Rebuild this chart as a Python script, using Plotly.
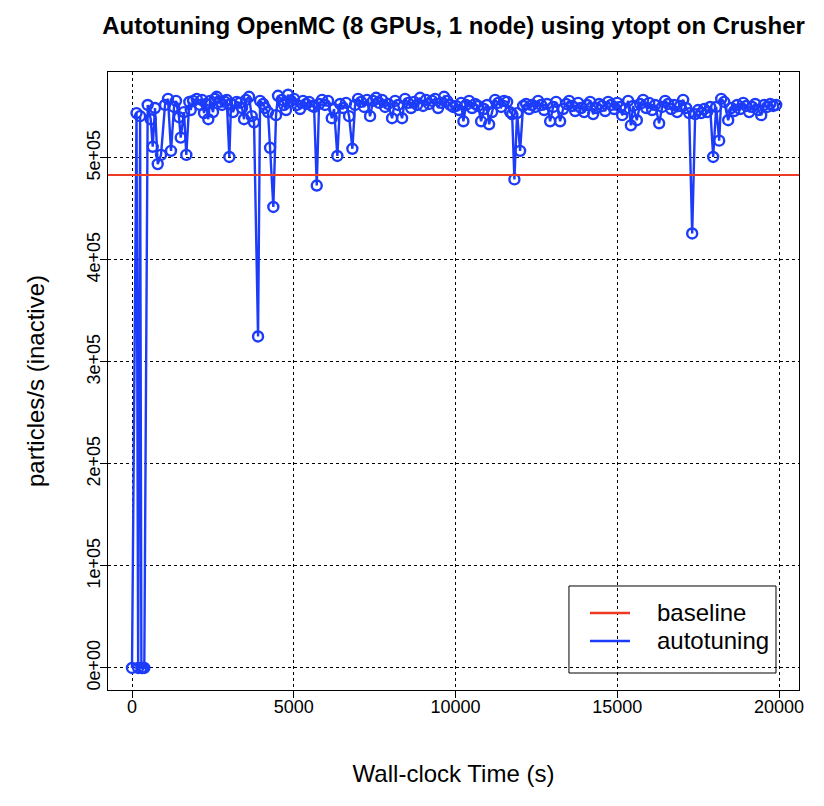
import plotly.graph_objects as go

# ---- data ----
time_s = [0, 140, 190, 250, 290, 330, 380, 485, 578, 640, 711, 795, 897, 1020, 1113, 1206, 1299, 1360,
          1453, 1506, 1608, 1679, 1772, 1815, 1886, 2000, 2103, 2165, 2226, 2288, 2359, 2412, 2505, 2566,
          2619, 2721, 2783, 2876, 2928, 3009, 3061, 3123, 3237, 3339, 3401, 3463, 3525, 3618, 3701, 3772,
          3896, 3958, 4051, 4112, 4205, 4267, 4369, 4452, 4514, 4629, 4700, 4761, 4824, 4916, 5009, 5102,
          5195, 5287, 5380, 5473, 5566, 5628, 5711, 5782, 5875, 5968, 6060, 6175, 6246, 6348, 6431, 6524,
          6617, 6710, 6812, 6895, 6988, 7081, 7174, 7266, 7359, 7452, 7545, 7638, 7730, 7823, 7916, 8039,
          8132, 8225, 8349, 8441, 8534, 8627, 8720, 8812, 8905, 8998, 9091, 9183, 9276, 9369, 9462, 9555,
          9647, 9740, 9833, 9926, 10019, 10111, 10173, 10244, 10327, 10420, 10513, 10606, 10698, 10791,
          10884, 10977, 11039, 11131, 11224, 11317, 11410, 11502, 11595, 11688, 11750, 11821, 11904, 11997,
          12090, 12183, 12275, 12368, 12461, 12554, 12646, 12739, 12832, 12925, 13018, 13110, 13234, 13327,
          13420, 13512, 13605, 13698, 13791, 13884, 13976, 14069, 14162, 14255, 14347, 14440, 14533, 14626,
          14719, 14811, 14904, 14997, 15090, 15152, 15244, 15337, 15421, 15491, 15605, 15707, 15800, 15893,
          15986, 16079, 16171, 16295, 16388, 16481, 16573, 16666, 16759, 16852, 16944, 17037, 17130, 17223,
          17316, 17409, 17501, 17594, 17687, 17780, 17872, 17965, 18058, 18151, 18213, 18305, 18429, 18522,
          18615, 18707, 18800, 18893, 18986, 19078, 19171, 19264, 19357, 19450, 19542, 19635, 19728, 19821,
          19913]

autotuning = [0, 544000, 0, 541000, 0, 0, 0, 552000, 538000, 511000, 549000, 494000, 503000, 552000,
              558000, 507000, 550000, 556000, 540000, 520000, 545000, 503000, 555000, 547000, 556000,
              558000, 552000, 557000, 544000, 553000, 538000, 556000, 545000, 558000, 560000, 555000,
              552000, 555000, 557000, 501000, 553000, 545000, 555000, 554000, 549000, 538000, 557000,
              560000, 541000, 535000, 325000, 556000, 553000, 549000, 545000, 510000, 452000, 542000,
              561000, 557000, 552000, 547000, 562000, 556000, 558000, 552000, 548000, 556000, 553000,
              555000, 551000, 550000, 473000, 553000, 557000, 552000, 556000, 539000, 548000, 502000,
              553000, 549000, 554000, 541000, 509000, 552000, 558000, 555000, 550000, 557000, 541000,
              556000, 559000, 554000, 557000, 550000, 553000, 539000, 556000, 552000, 539000, 558000,
              554000, 549000, 555000, 552000, 559000, 551000, 557000, 553000, 556000, 558000, 549000,
              554000, 560000, 556000, 552000, 550000, 551000, 547000, 554000, 536000, 552000, 556000,
              549000, 553000, 551000, 536000, 548000, 552000, 533000, 545000, 557000, 554000, 550000,
              556000, 555000, 545000, 543000, 479000, 544000, 507000, 551000, 553000, 548000, 552000,
              550000, 556000, 552000, 547000, 553000, 536000, 550000, 555000, 536000, 548000, 553000,
              556000, 551000, 546000, 554000, 549000, 545000, 552000, 555000, 543000, 549000, 553000,
              551000, 546000, 555000, 552000, 548000, 554000, 550000, 542000, 548000, 556000, 532000,
              551000, 537000, 553000, 557000, 549000, 554000, 547000, 552000, 534000, 550000, 556000,
              553000, 548000, 552000, 545000, 551000, 557000, 549000, 544000, 426000, 543000, 547000,
              544000, 548000, 545000, 550000, 501000, 550000, 517000, 558000, 555000, 537000, 549000,
              546000, 552000, 548000, 554000, 551000, 545000, 550000, 553000, 547000, 542000, 552000,
              550000, 553000, 551000, 552000]

baseline = 483300

x_ticks = [0, 5000, 10000, 15000, 20000]
x_tick_labels = ["0", "5000", "10000", "15000", "20000"]
y_ticks = [0, 100000, 200000, 300000, 400000, 500000]
y_tick_labels = ["0e+00", "1e+05", "2e+05", "3e+05", "4e+05", "5e+05"]
series_names = ["baseline", "autotuning"]

X_RANGE = [-742, 20618]
Y_RANGE = [-21600, 584300]

BLUE = "#1c3cfa"
RED = "#ee3a24"
FONT = "Liberation Sans, Arial, Helvetica, sans-serif"

fig = go.Figure()

fig.add_trace(go.Scatter(
    x=time_s, y=autotuning, mode="lines+markers",
    line=dict(color=BLUE, width=2.4),
    marker=dict(symbol="circle-open", size=10, color=BLUE, line=dict(width=2.4, color=BLUE)),
    showlegend=False, hoverinfo="skip"))

fig.add_hline(y=baseline, line=dict(color=RED, width=2.2))

# empty trace on overlay axes that only carry the tick marks
fig.add_trace(go.Scatter(x=[None], y=[None], xaxis="x2", yaxis="y2",
                         showlegend=False, hoverinfo="skip"))

# R-style legend box (drawn in paper coordinates, grid shows through as in the reference)
fig.add_shape(type="rect", xref="paper", yref="paper", x0=0.6671, x1=0.9667, y0=0.0275, y1=0.1683,
              line=dict(color="black", width=1), fillcolor="rgba(0,0,0,0)", layer="above")
for name, col, yy in [(series_names[0], RED, 0.1246), (series_names[1], BLUE, 0.0793)]:
    fig.add_shape(type="line", xref="paper", yref="paper", x0=0.6975, x1=0.7554, y0=yy, y1=yy,
                  line=dict(color=col, width=2.4), layer="above")
    fig.add_annotation(xref="paper", yref="paper", x=0.7916, y=yy, xanchor="left", yanchor="middle",
                       text=name, showarrow=False, font=dict(family=FONT, size=24, color="black"))

fig.update_layout(
    width=808, height=790,
    margin=dict(l=100, r=17, t=64, b=108),
    paper_bgcolor="white", plot_bgcolor="white",
    font=dict(family=FONT, color="black", size=17),
    showlegend=False,
    title=dict(text="<b>Autotuning OpenMC (8 GPUs, 1 node) using ytopt on Crusher</b>",
               xref="paper", x=0.5, xanchor="center", y=0.978, yanchor="middle",
               font=dict(family=FONT, size=24, color="black")),
    xaxis=dict(
        range=X_RANGE, tickmode="array", tickvals=x_ticks, ticktext=x_tick_labels,
        showgrid=True, gridcolor="black", griddash="dot", gridwidth=1,
        zeroline=False, showline=True, linecolor="black", linewidth=1, mirror=True,
        ticks="", tickfont=dict(size=18),
        title=dict(text="Wall-clock Time (s)", font=dict(size=24), standoff=49)),
    yaxis=dict(
        range=Y_RANGE, tickmode="array", tickvals=y_ticks, ticktext=y_tick_labels,
        showgrid=True, gridcolor="black", griddash="dot", gridwidth=1,
        zeroline=False, showline=True, linecolor="black", linewidth=1, mirror=True,
        ticks="", tickfont=dict(size=18), tickangle=-90,
        title=dict(text="particles/s (inactive)", font=dict(size=24), standoff=32)),
    xaxis2=dict(
        range=X_RANGE, overlaying="x", anchor="y2", side="bottom", tickmode="array",
        tickvals=x_ticks, showticklabels=False, showgrid=False, zeroline=False, showline=False,
        ticks="outside", ticklen=7, tickcolor="black", tickwidth=1),
    yaxis2=dict(
        range=Y_RANGE, overlaying="y", anchor="x2", side="left", tickmode="array",
        tickvals=y_ticks, showticklabels=False, showgrid=False, zeroline=False, showline=False,
        ticks="outside", ticklen=7, tickcolor="black", tickwidth=1),
)

fig.write_html("out.html")
